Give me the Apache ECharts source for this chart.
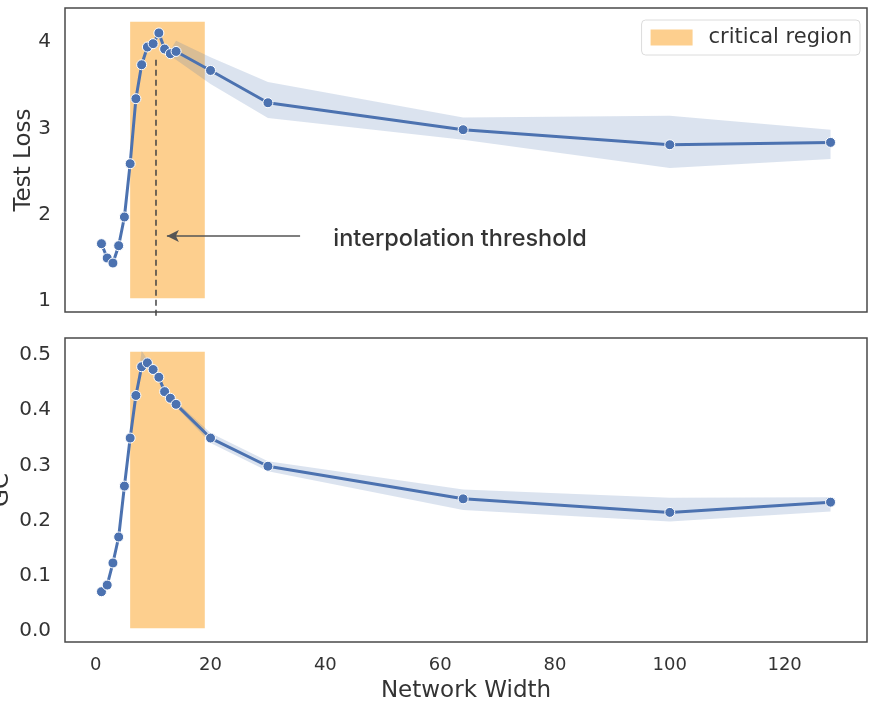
<!DOCTYPE html>
<html>
<head>
<meta charset="utf-8">
<script src="https://cdn.jsdelivr.net/npm/echarts@6/dist/echarts.min.js"></script>
<style>html,body{margin:0;padding:0;background:#fff}#c{width:870px;height:701px}</style>
</head>
<body>
<div id="c"></div>
<script>
// ---- data ----
const widths = [1,2,3,4,5,6,7,8,9,10,11,12,13,14,20,30,64,100,128];
const lossMean  = [1.631,1.465,1.407,1.608,1.940,2.557,3.310,3.703,3.908,3.947,4.071,3.885,3.831,3.857,3.637,3.263,2.951,2.777,2.804];
const lossLower = [1.621,1.455,1.397,1.598,1.930,2.545,3.295,3.690,3.895,3.935,4.058,3.860,3.800,3.760,3.480,3.086,2.835,2.507,2.612];
const lossUpper = [1.641,1.475,1.417,1.618,1.950,2.569,3.325,3.716,3.921,3.959,4.084,3.910,3.870,3.980,3.790,3.503,3.093,3.113,2.951];
const gcMean  = [0.066,0.078,0.118,0.165,0.257,0.344,0.421,0.473,0.480,0.468,0.454,0.428,0.416,0.405,0.344,0.293,0.234,0.2095,0.228];
const gcLower = [0.063,0.075,0.115,0.162,0.253,0.340,0.417,0.468,0.476,0.464,0.450,0.424,0.412,0.400,0.335,0.284,0.214,0.193,0.211];
const gcUpper = [0.069,0.081,0.121,0.168,0.261,0.348,0.425,0.502,0.486,0.472,0.458,0.432,0.420,0.410,0.353,0.302,0.251,0.236,0.237];
const criticalRegion = [6, 19];
const lossRegionY = [1.0, 4.2];
const gcRegionY = [0.0, 0.5];
const thresholdX = 10.5;
const thresholdLineY = [3.76, 0.76];
const arrowFrom = [35.6, 1.72];
const arrowTo = [12.4, 1.72];
const annotationAt = [41.3, 1.69];
const xTicks = [0,20,40,60,80,100,120];
const lossTicks = [1,2,3,4];
const gcTicks = [0.0,0.1,0.2,0.3,0.4,0.5];

const BLUE = '#4c72b0';
const BAND = 'rgba(76,114,176,0.2)';
const ORANGE = 'rgba(251,160,30,0.5)';
const FONT = 'DejaVu Sans';
const pairs = (xs, ys) => xs.map((x, i) => [x, ys[i]]);

const chart = echarts.init(document.getElementById('c'), null, {renderer: 'canvas'});

function xAxisCfg(idx, showLabels) {
  return {
    type: 'value', gridIndex: idx, min: -5.35, max: 134.35,
    axisLine: {show: false}, axisTick: {show: false}, splitLine: {show: false},
    axisLabel: {show: showLabels, customValues: xTicks, color: '#333', fontFamily: FONT, fontSize: 18, margin: 14},
    name: showLabels ? 'Network Width' : '', nameLocation: 'middle', nameGap: 38, nameMoveOverlap: false,
    nameTextStyle: {color: '#333', fontFamily: FONT, fontSize: 23}
  };
}
function yAxisCfg(idx, min, max, ticks, name, gap, fmt) {
  return {
    type: 'value', gridIndex: idx, min: min, max: max,
    axisLine: {show: false}, axisTick: {show: false}, splitLine: {show: false},
    axisLabel: {customValues: ticks, color: '#333', fontFamily: FONT, fontSize: 20, margin: 14,
      formatter: v => '{t|' + fmt(v) + '}',
      rich: {t: {fontFamily: FONT, fontSize: 20, color: '#333', padding: [6, 0, 0, 0]}}},
    name: name, nameLocation: 'middle', nameGap: gap, nameMoveOverlap: false,
    nameTextStyle: {color: '#333', fontFamily: FONT, fontSize: 23}
  };
}
function bandSeries(idx, lower, upper) {
  return {type: 'custom', xAxisIndex: idx, yAxisIndex: idx, silent: true, z: 2,
    data: widths.map((x, i) => [x, lower[i], upper[i]]),
    encode: {x: 0, y: [1, 2]},
    renderItem: function (params, api) {
      if (params.dataIndex !== 0) return null;
      const pts = [];
      for (let i = 0; i < widths.length; i++) pts.push(api.coord([widths[i], upper[i]]));
      for (let i = widths.length - 1; i >= 0; i--) pts.push(api.coord([widths[i], lower[i]]));
      return {type: 'polygon', shape: {points: pts}, style: {fill: BAND, stroke: null}};
    }};
}
function mainSeries(idx, ys) {
  return {type: 'line', xAxisIndex: idx, yAxisIndex: idx, data: pairs(widths, ys),
    symbol: 'circle', symbolSize: 10, showSymbol: true,
    lineStyle: {color: BLUE, width: 3}, itemStyle: {color: BLUE, borderColor: '#fff', borderWidth: 1}, z: 4};
}
function regionSeries(idx, ys) {
  return {name: 'critical region', type: 'line', xAxisIndex: idx, yAxisIndex: idx, data: [],
    itemStyle: {color: ORANGE}, lineStyle: {opacity: 0}, z: 1,
    markArea: {silent: true, itemStyle: {color: ORANGE},
      data: [[{coord: [criticalRegion[0], ys[0]]}, {coord: [criticalRegion[1], ys[1]]}]]}};
}

const option = {
  animation: false,
  grid: [
    {left: 65, top: 8, width: 802, height: 304, show: true, borderColor: '#4a4a4a', borderWidth: 1.5,
     backgroundColor: 'transparent', outerBoundsMode: 'none', containLabel: false},
    {left: 65, top: 338, width: 802, height: 304, show: true, borderColor: '#4a4a4a', borderWidth: 1.5,
     backgroundColor: 'transparent', outerBoundsMode: 'none', containLabel: false}
  ],
  legend: {
    data: ['critical region'], right: 10, top: 20, icon: 'rect', itemWidth: 42, itemHeight: 16,
    padding: [7, 8, 7, 9], borderColor: '#dcdcdc', borderWidth: 1, borderRadius: 4, backgroundColor: '#fff',
    textStyle: {color: '#333', fontFamily: FONT, fontSize: 21, padding: [0, 0, 0, 11]}
  },
  xAxis: [xAxisCfg(0, false), xAxisCfg(1, true)],
  yAxis: [
    yAxisCfg(0, 0.84, 4.36, lossTicks, 'Test Loss', 29, v => String(v)),
    yAxisCfg(1, -0.025, 0.525, gcTicks, 'GC', 51, v => v.toFixed(1))
  ],
  series: [
    regionSeries(0, lossRegionY),
    regionSeries(1, gcRegionY),
    bandSeries(0, lossLower, lossUpper),
    bandSeries(1, gcLower, gcUpper),
    mainSeries(0, lossMean),
    mainSeries(1, gcMean),
    {type: 'line', xAxisIndex: 0, yAxisIndex: 0, clip: false, silent: true, z: 5,
     data: [[thresholdX, thresholdLineY[0]], [thresholdX, thresholdLineY[1]]], symbol: 'none',
     lineStyle: {color: '#444', width: 1.5, type: [6, 4]}},
    {type: 'line', xAxisIndex: 0, yAxisIndex: 0, data: [], silent: true, z: 5,
     markLine: {silent: true, symbol: ['none', 'arrow'], symbolSize: [9, 12], label: {show: false},
       lineStyle: {color: '#555', width: 1.5, type: 'solid'},
       data: [[{coord: arrowFrom}, {coord: arrowTo}]]}},
    {type: 'scatter', xAxisIndex: 0, yAxisIndex: 0, silent: true, z: 6,
     data: [annotationAt], symbol: 'circle', symbolSize: 1, itemStyle: {color: 'rgba(0,0,0,0)'},
     label: {show: true, formatter: 'interpolation threshold', position: 'right', distance: 0,
       color: '#000', fontFamily: 'Inter', fontWeight: 500, fontSize: 23.5}}
  ]
};
chart.setOption(option);
</script>
</body>
</html>
